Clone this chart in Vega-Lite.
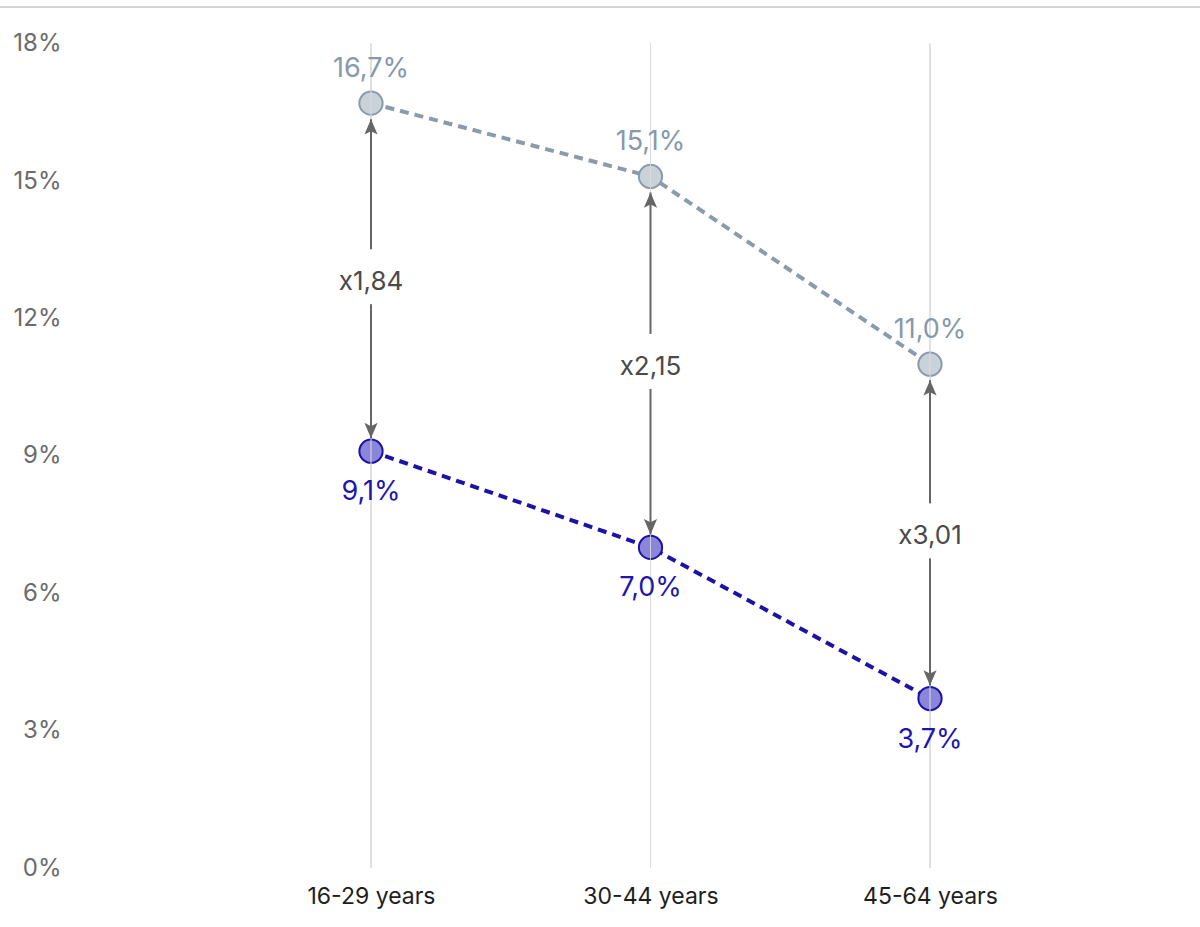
{
  "$schema": "https://vega.github.io/schema/vega-lite/v6.json",
  "width": 1200,
  "height": 861,
  "autosize": {"type": "none"},
  "padding": {"left": 0, "top": 7, "right": 0, "bottom": 59},
  "background": "white",
  "config": {
    "view": {"stroke": null},
    "font": "Inter",
    "axisX": {"title": null, "domain": false, "ticks": false, "grid": false, "labelPadding": 17, "labelFontSize": 23, "labelColor": "#1e1e1e", "labelFont": "Inter", "labelAngle": 0},
    "axisY": {"title": null, "domain": false, "ticks": false, "grid": false, "labelFontSize": 24, "labelColor": "#6b6b6b", "labelFont": "Inter", "offset": -71, "labelPadding": 10, "labelFlush": false, "labelOverlap": false}
  },
  "data": {
    "values": [
      {"age": "16-29 years", "group": "Gray", "value": 16.7, "label": "16,7%", "ratio": "x1,84"},
      {"age": "30-44 years", "group": "Gray", "value": 15.1, "label": "15,1%", "ratio": "x2,15"},
      {"age": "45-64 years", "group": "Gray", "value": 11.0, "label": "11,0%", "ratio": "x3,01"},
      {"age": "16-29 years", "group": "Blue", "value": 9.1, "label": "9,1%", "ratio": "x1,84"},
      {"age": "30-44 years", "group": "Blue", "value": 7.0, "label": "7,0%", "ratio": "x2,15"},
      {"age": "45-64 years", "group": "Blue", "value": 3.7, "label": "3,7%", "ratio": "x3,01"}
    ]
  },
  "layer": [
    {
      "data": {"values": [{}]},
      "mark": {"type": "rule", "color": "#c8c8c8", "strokeWidth": 1.5},
      "encoding": {"y": {"datum": 18.8, "type": "quantitative", "scale": {"domain": [0, 18.8], "nice": false, "zero": true}, "axis": {"values": [0, 3, 6, 9, 12, 15, 18], "labelExpr": "datum.value + '%'"}}}
    },
    {
      "mark": {"type": "rule", "color": "#dcdcdc", "strokeWidth": 1},
      "encoding": {
        "x": {"field": "age", "type": "nominal", "scale": {"type": "point", "range": [371, 930], "padding": 0}, "axis": {"labelAngle": 0}},
        "y": {"datum": 0, "type": "quantitative"},
        "y2": {"datum": 18}
      }
    },
    {
      "mark": {"type": "line", "strokeWidth": 4, "strokeDash": [9, 6]},
      "encoding": {
        "x": {"field": "age", "type": "nominal"},
        "y": {"field": "value", "type": "quantitative"},
        "stroke": {"field": "group", "type": "nominal", "legend": null, "scale": {"domain": ["Gray", "Blue"], "range": ["#8a9bab", "#1d12a8"]}}
      }
    },
    {
      "mark": {"type": "point", "filled": false, "size": 540, "strokeWidth": 2, "opacity": 1, "fillOpacity": 1},
      "encoding": {
        "x": {"field": "age", "type": "nominal"},
        "y": {"field": "value", "type": "quantitative"},
        "stroke": {"field": "group", "type": "nominal", "legend": null},
        "fill": {"field": "group", "type": "nominal", "legend": null, "scale": {"domain": ["Gray", "Blue"], "range": ["#cad2d9", "#8b86d9"]}}
      }
    },
    {
      "mark": {"type": "rule", "color": "#dcdcdc", "strokeWidth": 1, "opacity": 0.6},
      "encoding": {
        "x": {"field": "age", "type": "nominal"},
        "y": {"datum": 0, "type": "quantitative"},
        "y2": {"datum": 18}
      }
    },
    {
      "mark": {"type": "rule", "color": "#666666", "strokeWidth": 2, "yOffset": 16, "y2Offset": -13},
      "encoding": {
        "x": {"field": "age", "type": "nominal"},
        "y": {"aggregate": "max", "field": "value", "type": "quantitative"},
        "y2": {"aggregate": "min", "field": "value"}
      }
    },
    {
      "mark": {"type": "point", "filled": true, "fill": "white", "opacity": 1, "strokeWidth": 0, "size": 400, "shape": "M-0.5,-2.8L0.5,-2.8L0.5,2.7L-0.5,2.7Z"},
      "encoding": {
        "x": {"field": "age", "type": "nominal"},
        "y": {"aggregate": "mean", "field": "value", "type": "quantitative"}
      }
    },
    {
      "mark": {"type": "point", "filled": true, "color": "#666666", "opacity": 1, "size": 121, "yOffset": 16, "shape": "M0,0L-1.2,2.8L0,2.2L1.2,2.8Z"},
      "encoding": {
        "x": {"field": "age", "type": "nominal"},
        "y": {"aggregate": "max", "field": "value", "type": "quantitative"}
      }
    },
    {
      "mark": {"type": "point", "filled": true, "color": "#666666", "opacity": 1, "size": 121, "yOffset": -13, "shape": "M0,0L-1.2,-2.8L0,-2.2L1.2,-2.8Z"},
      "encoding": {
        "x": {"field": "age", "type": "nominal"},
        "y": {"aggregate": "min", "field": "value", "type": "quantitative"}
      }
    },
    {
      "transform": [{"filter": "datum.group === 'Gray'"}],
      "mark": {"type": "text", "fontSize": 27, "color": "#8699ab", "baseline": "middle", "dy": -34},
      "encoding": {
        "x": {"field": "age", "type": "nominal"},
        "y": {"field": "value", "type": "quantitative"},
        "text": {"field": "label", "type": "nominal"}
      }
    },
    {
      "transform": [{"filter": "datum.group === 'Blue'"}],
      "mark": {"type": "text", "fontSize": 27, "color": "#2016ae", "baseline": "middle", "dy": 41},
      "encoding": {
        "x": {"field": "age", "type": "nominal"},
        "y": {"field": "value", "type": "quantitative"},
        "text": {"field": "label", "type": "nominal"}
      }
    },
    {
      "mark": {"type": "text", "fontSize": 26, "color": "#4a4a4a", "baseline": "middle", "dy": 5},
      "encoding": {
        "x": {"field": "age", "type": "nominal"},
        "y": {"aggregate": "mean", "field": "value", "type": "quantitative"},
        "text": {"field": "ratio", "type": "nominal"}
      }
    }
  ]
}
